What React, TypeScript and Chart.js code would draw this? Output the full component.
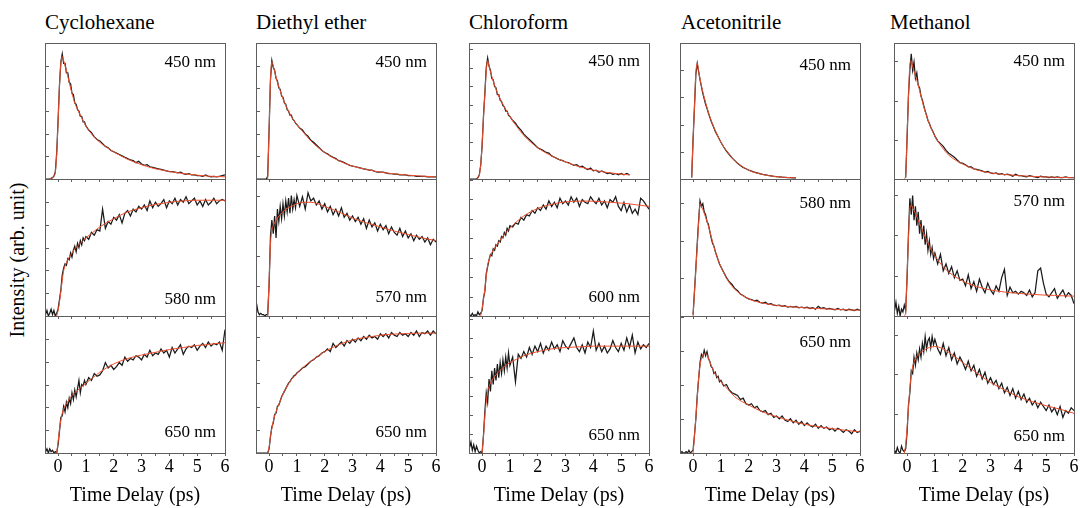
import React, { useEffect, useRef } from 'react';
import { Chart, registerables } from 'chart.js';

Chart.register(...registerables);

// ---------------- text ----------------
const SOLVENTS = ['Cyclohexane', 'Diethyl ether', 'Chloroform', 'Acetonitrile', 'Methanol'];
const WAVELENGTHS = [
  ['450 nm', '580 nm', '650 nm'],
  ['450 nm', '570 nm', '650 nm'],
  ['450 nm', '600 nm', '650 nm'],
  ['450 nm', '580 nm', '650 nm'],
  ['450 nm', '570 nm', '650 nm'],
];
const X_AXIS_TITLE = 'Time Delay (ps)';
const Y_AXIS_TITLE = 'Intensity (arb. unit)';

// ---------------- axes ----------------
const X_MIN = -0.47;
const X_MAX = 6;
const X_TICKS = [0, 0.5, 1, 1.5, 2, 2.5, 3, 3.5, 4, 4.5, 5, 5.5, 6];
const X_TICK_LABELS = ['0', '', '1', '', '2', '', '3', '', '4', '', '5', '', '6'];
// number of y tick divisions spanning each panel (col x row)
const Y_DIVISIONS = [
  [6, 6, 6],
  [6, 4.57, 5.9],
  [7.34, 7.03, 7.17],
  [5, 3.65, 4.02],
  [3.47, 3.4, 3.49],
];

// ---------------- time grids (ps) ----------------
const T_DATA = [
  -0.45, -0.4, -0.35, -0.3, -0.25, -0.2, -0.15, -0.1, -0.05,
  0, 0.05, 0.1, 0.15, 0.2, 0.25, 0.3, 0.35, 0.4, 0.45, 0.5, 0.55, 0.6, 0.65, 0.7, 0.75, 0.8, 0.85, 0.9, 0.95, 1,
  1.1, 1.2, 1.3, 1.4, 1.5, 1.6, 1.7, 1.8, 1.9, 2,
  2.1, 2.2, 2.3, 2.4, 2.5, 2.6, 2.7, 2.8, 2.9, 3,
  3.1, 3.2, 3.3, 3.4, 3.5, 3.6, 3.7, 3.8, 3.9, 4,
  4.1, 4.2, 4.3, 4.4, 4.5, 4.6, 4.7, 4.8, 4.9, 5,
  5.1, 5.2, 5.3, 5.4, 5.5, 5.6, 5.7, 5.8, 5.9, 6,
];
const T_FIT = [
  -0.45, -0.3, -0.2, -0.15, -0.1, -0.05,
  0, 0.05, 0.1, 0.15, 0.2, 0.25, 0.3,
  0.4, 0.5, 0.6, 0.8, 1,
  1.25, 1.5, 2, 2.5, 3, 3.5, 3.7, 4, 4.5, 5, 5.3, 5.5, 6,
];
const N = null;

// ---------------- Cyclohexane ----------------
const CYC_450 = [
  0, 0, 0, 0, 0.5, 1, 2, 5, 19,
  43, 69, 86, 92, 85, 85, 78, 78, 71, 70, 63, 62, 56, 55, 51, 50, 46, 46, 42, 42, 39,
  36, 34, 31, 29, 28, 26, 24, 23, 21, 20,
  19, 18, 17, 16, 15, 14, 13.5, 12, 13, 11,
  10, 10.5, 9, 8.5, 8, 7.5, 7, 6.5, 6, 5.5,
  5.5, 5, 4.5, 5, 4, 3.5, 4, 3, 3, 2.5,
  2.5, 2, 3, 2, 1.5, 2, 1.5, 2, 2.5, 3,
];
const CYC_450_FIT = [
  N, 0, 1, 2, 5, 18,
  42, 68, 85, 90, 87, 83.5, 80,
  71, 63, 56, 47, 39,
  32, 27, 20, 14.5, 10.5, 7.5, 6.7, 5.5, 4, 2.8, 2.3, 2, 1.6,
];
const CYC_580 = [
  1, 4, 0, 2, 5, 1, 4, 0, 2,
  5, 12, 19, 30, 35, 38, 37, 42, 41, 46, 43, 48, 51, 47, 53, 50, 55, 52, 57, 55, 58,
  56, 61, 59, 63, 62, 78, 64, 69, 67, 72,
  70, 74, 68, 75, 77, 73, 78, 76, 80, 78,
  81, 77, 84, 79, 83, 80, 82, 85, 79, 84,
  82, 86, 81, 85, 83, 87, 82, 84, 86, 81,
  84, 80, 85, 81, 83, 86, 82, 84, 85, 84,
];
const CYC_580_FIT = [
  N, N, N, N, N, 0,
  4, 10, 18, 26, 33, 36.5, 39,
  43, 46, 49, 53, 57,
  61, 65, 71, 76, 79, 81.5, 82, 83, 84, 84.5, 84.5, 84.5, 84.5,
];
const CYC_650 = [
  1, 3, 0, 3, 1, 2, 0, 1, 0,
  6, 16, 26, 27, 34, 30, 37, 33, 40, 36, 44, 39, 46, 41, 47, 53, 44, 50, 49, 53, 50,
  55, 53, 58, 56, 57, 60, 66, 62, 64, 61,
  63, 66, 64, 70, 67, 69, 68, 71, 70, 68,
  72, 70, 75, 71, 73, 72, 76, 73, 75, 70,
  77, 73, 76, 79, 72, 76, 78, 77, 79, 75,
  78, 80, 77, 81, 78, 80, 79, 81, 75, 90,
];
const CYC_650_FIT = [
  N, N, N, N, N, 0,
  8, 17, 24, 29, 32, 34.5, 36,
  39, 42, 44, 47.5, 51,
  55, 59, 65, 69, 71.5, 73.5, 74.3, 75.5, 77, 78.5, 79, 79.5, 80.5,
];

// ---------------- Diethyl ether ----------------
const DEE_450 = [
  0, 0, 0, 0, 0, 0, 0, 0, 2,
  36, 73, 87, 82, 80, 74, 72, 67, 66, 61, 60, 56, 55, 51, 50, 47, 47, 44, 43, 41, 40,
  37.5, 36, 33, 31.5, 28.5, 27, 25, 23, 21, 19.5,
  18.5, 17, 16, 15, 13.5, 13, 12, 11, 10, 9.5,
  9, 8.5, 8, 7.5, 7, 6.5, 6.5, 5.5, 5, 5,
  5, 4.5, 4, 4, 3.5, 3.5, 3, 3, 3, 2.5,
  2.5, 2.5, 2, 2, 2, 2, 1.5, 1.5, 1.5, 1.5,
];
const DEE_450_FIT = [
  N, N, N, N, N, 0,
  35, 72, 86, 83, 79, 75, 71,
  65, 59, 54, 46, 40,
  34, 28, 19.5, 13.5, 9.5, 7, 6.2, 5, 3.8, 2.8, 2.4, 2.1, 1.6,
];
const DEE_570 = [
  9, 3, 1, 2, 1, 1, 0, 1, 1,
  22, 58, 70, 60, 73, 57, 78, 69, 80, 71, 82, 73, 84, 76, 86, 75, 88, 78, 85, 79, 88,
  80, 87, 78, 90, 84, 86, 81, 84, 78, 82,
  76, 80, 74, 78, 73, 79, 72, 75, 70, 73,
  69, 72, 67, 71, 64, 70, 65, 68, 62, 67,
  63, 66, 60, 65, 61, 59, 64, 58, 62, 57,
  60, 55, 59, 56, 58, 54, 57, 52, 56, 54,
];
const DEE_570_FIT = [
  N, N, N, N, N, 0,
  25, 52, 63, 66, 68, 70, 71.5,
  74, 76, 78, 80, 82,
  83, 83, 80, 76, 71.5, 68, 66.8, 65, 62, 59.5, 58, 57, 55,
];
const DEE_650 = [
  0, 0, 0, 0, 0, 0, 0, 0, 0,
  3, 12, 19, 22, 28, 29, 34, 35, 38, 41, 43, 45, 47, 49, 51, 52, 54, 55, 56.5, 57, 58.5,
  60, 62, 63, 65, 67, 68, 70, 71, 73, 74,
  76, 74, 80, 77, 79, 81, 78, 82, 80, 83,
  81, 84, 82, 85, 83, 86, 84, 85, 83, 87,
  85, 87, 84, 88, 86, 85, 88, 86, 87, 85,
  88, 86, 89, 85, 88, 87, 89, 86, 89, 87,
];
const DEE_650_FIT = [
  N, N, N, N, N, 0,
  4, 12, 18, 23, 27, 30, 33,
  38, 43, 47, 53.5, 58,
  63, 67, 74, 79, 82.5, 84.5, 85, 86, 86.8, 87.2, 87.4, 87.5, 87.5,
];

// ---------------- Chloroform ----------------
const CHL_450 = [
  0, 0, 0, 0, 0, 0, 1, 3, 10,
  24, 46, 63, 82, 89, 83, 80, 74, 73, 68, 67, 62, 62, 58, 57, 54, 53, 50, 50, 47, 46,
  43, 41, 38, 36, 33, 31, 29, 27, 25, 23,
  22, 21, 19.5, 19, 17, 16, 15, 14, 13.5, 12.5,
  12, 11, 10, 10.5, 9, 9.5, 8, 7, 8, 6,
  6.5, 5, 6, 5, 4, 4.5, 3.5, 4, 3, 4,
  3, 4, 3, N, N, N, N, N, N, N,
];
const CHL_450_FIT = [
  N, N, 0, 0.5, 3, 10,
  25, 45, 62, 79, 87, 83, 79,
  72, 66, 61, 53, 46,
  38.5, 32, 23, 17, 12.5, 9, 8, 6.5, 4.8, 3.6, 3, N, N,
];
const CHL_600 = [
  1, 0, 2, 0, 1, 0, 3, 1, 2,
  4, 13, 18, 31, 36, 41, 45, 44, 49, 48, 52, 51, 55, 54, 58, 57, 61, 59, 64, 62, 66,
  65, 68, 67, 72, 70, 74, 73, 77, 75, 79,
  77, 81, 78, 84, 80, 83, 79, 86, 82, 84,
  81, 87, 83, 86, 80, 85, 83, 82, 87, 84,
  82, 86, 81, 84, 79, 85, 83, 87, 80, 77,
  83, 76, 81, 75, 78, 74, 86, 84, 81, 78,
];
const CHL_600_FIT = [
  N, N, N, N, N, 0,
  5, 12, 20, 29, 37, 41, 44,
  48, 51, 54, 59.5, 64,
  69, 73, 78.5, 81.5, 83.3, 83.8, 83.9, 83.8, 83.2, 82.4, 81.8, 81.3, 80,
];
const CHL_650 = [
  4, 8, 2, 6, 1, 5, 2, 0, 1,
  0, 13, 30, 44, 37, 54, 45, 60, 50, 62, 53, 65, 55, 66, 58, 68, 60, 70, 62, 73, 64,
  70, 52, 72, 69, 74, 70, 77, 72, 78, 74,
  80, 73, 78, 75, 81, 76, 79, 74, 82, 78,
  76, 80, 84, 77, 74, 79, 73, 81, 77, 89,
  75, 80, 74, 78, 73, 76, 82, 77, 74, 80,
  75, 84, 77, 86, 73, 81, 76, 79, 77, 80,
];
const CHL_650_FIT = [
  N, N, N, N, N, N,
  0, 12, 27, 37, 45, 48.5, 51,
  54.5, 57, 59.5, 63, 66,
  68.5, 71, 74, 76, 77, 77.5, 77.7, 78, 78, 78, 78, 78, 78,
];

// ---------------- Acetonitrile ----------------
const ACN_450 = [
  N, N, N, N, N, N, N, N, 1,
  29, 53, 77, 85, 79, 73, 68, 63, 59, 55, 52, 48.5, 45.5, 42.5, 40, 37.5, 35, 33, 31, 29, 27,
  23.5, 20.5, 18, 15.5, 13.5, 11.5, 10, 8.5, 7.5, 6.5,
  5.8, 5, 4.5, 3.9, 3.4, 3, 2.6, 2.3, 2, 1.7,
  1.5, 1.3, 1.2, 1.1, 1, 0.9, 0.8, N, N, N,
  N, N, N, N, N, N, N, N, N, N,
  N, N, N, N, N, N, N, N, N, N,
];
const ACN_450_FIT = [
  N, N, N, N, N, 1,
  29, 53, 78, 85, 79, 73.5, 68.5,
  60, 52.5, 46, 35.5, 27,
  19.5, 13.5, 6.5, 3.3, 1.7, 1, 0.8, N, N, N, N, N, N,
];
const ACN_580 = [
  N, N, N, N, N, N, N, N, N,
  1, 18, 35, 53, 70, 84, 80, 82, 76, 74, 69, 67, 62, 57, 53, 51, 47, 44, 41, 38, 36,
  32, 28, 25, 23, 20, 18.5, 16, 15, 13.5, 12.5,
  12, 11, 11.5, 10, 9.5, 10, 8.5, 9, 8, 7.5,
  8, 7, 7.5, 6.5, 7, 6.5, 7, 6, 6.5, 6,
  6.5, 5.5, 6, 5, 7, 5.5, 6, 5, 5.5, 5,
  4.5, 5.5, 4.5, 5, 4, 5, 4.5, 4, 5, 4,
];
const ACN_580_FIT = [
  N, N, N, N, N, N,
  0, 17, 34, 51, 68, 82, 80,
  75, 69, 62, 47, 36,
  26, 19.5, 12.5, 9.5, 7.7, 6.8, 6.5, 6, 5.4, 5, 4.7, 4.5, 4.2,
];
const ACN_650 = [
  0, 1, 0, 0, 1, 0, 2, 0, 1,
  2, 13, 25, 42, 54, 66, 72, 70, 75, 71, 74, 69, 67, 63, 62, 58, 59, 55, 56, 52, 53,
  49, 50, 46, 44, 43, 42, 39, 40, 36, 35,
  36, 33, 34, 31, 30, 31, 28, 29, 26, 27,
  25, 27, 24, 23, 25, 22, 24, 21, 23, 20,
  22, 20, 19, 21, 18, 20, 18, 19, 17, 18,
  16, 18, 17, 15, 17, 16, 14, 17, 15, 16,
];
const ACN_650_FIT = [
  N, N, N, N, N, N,
  0, 12, 26, 40, 55, 64, 69,
  72.5, 72, 66.5, 57.5, 52,
  46.5, 41, 35, 30, 26.5, 23.5, 22.5, 21, 19.2, 17.8, 17, 16.5, 15.4,
];

// ---------------- Methanol ----------------
const MEOH_450 = [
  N, N, N, N, N, N, N, N, 1,
  30, 62, 80, 92, 80, 86, 74, 78, 69, 67, 61, 58, 54, 50, 47, 43, 41, 38, 36, 34, 31.5,
  28, 26, 24, 21, 19, 17.5, 16, 14, 12, 11.5,
  10.5, 9, 9, 7.5, 7, 6.5, 6, 5, 5.5, 4.5,
  4, 4.5, 3.5, 4, 3, 3.5, 3, 2, 3.5, 2.5,
  2.5, 2, 1.5, 2.5, 2, 1.5, 1, 2, 1.5, 1.5,
  1, 1.5, 1, 1.5, 1, 1, 1.5, 1, 1, 1,
];
const MEOH_450_FIT = [
  N, N, N, N, 0, 3,
  32, 60, 84, 87, 83, 79, 76,
  69, 61, 53, 40.5, 31.5,
  23.5, 17.5, 11, 6.7, 4.5, 3.3, 3, 2.5, 1.9, 1.5, 1.3, 1.2, 1,
];
const MEOH_570 = [
  4, 10, 2, 7, 0, 5, 3, 8, 4,
  28, 60, 86, 74, 88, 70, 80, 66, 76, 60, 70, 56, 66, 52, 60, 48, 55, 45, 50, 42, 46,
  38, 45, 33, 38, 31, 36, 28, 33, 26, 27,
  22, 30, 20, 25, 18, 27, 21, 17, 24, 19,
  16, 22, 18, 28, 34, 15, 21, 17, 18, 16,
  18, 17, 15, 19, 14, 17, 33, 35, 24, 16,
  14, 17, 20, 13, 16, 19, 14, 17, 15, 9,
];
const MEOH_570_FIT = [
  N, N, N, N, 0, 3,
  30, 57, 78, 81, 79, 77, 75,
  70, 65, 60, 51, 44,
  37, 32, 25.5, 21.5, 19, 17.5, 17, 16.5, 15.8, 15.2, 15, 14.8, 14.5,
];
const MEOH_650 = [
  2, 0, 4, 1, 0, 5, 2, 1, 3,
  15, 35, 44, 60, 58, 70, 64, 73, 68, 76, 70, 80, 74, 85, 76, 82, 84, 77, 85, 79, 83,
  76, 72, 80, 71, 77, 68, 73, 65, 70, 66,
  61, 67, 60, 64, 56, 61, 54, 59, 51, 55,
  50, 53, 47, 51, 44, 48, 42, 47, 40, 45,
  39, 43, 37, 40, 35, 38, 33, 37, 34, 31,
  35, 30, 33, 28, 34, 26, 31, 29, 33, 31,
];
const MEOH_650_FIT = [
  N, N, N, N, 0, 6,
  18, 33, 47, 57, 63, 66.5, 69,
  71.5, 73.5, 75, 77, 77.7,
  76.5, 73.5, 66, 58.5, 51.5, 46, 44, 41, 37.5, 34.5, 33, 32, 29,
];

// column x row table built from the arrays above
const SERIES = [
  [{ data: CYC_450, fit: CYC_450_FIT }, { data: CYC_580, fit: CYC_580_FIT }, { data: CYC_650, fit: CYC_650_FIT }],
  [{ data: DEE_450, fit: DEE_450_FIT }, { data: DEE_570, fit: DEE_570_FIT }, { data: DEE_650, fit: DEE_650_FIT }],
  [{ data: CHL_450, fit: CHL_450_FIT }, { data: CHL_600, fit: CHL_600_FIT }, { data: CHL_650, fit: CHL_650_FIT }],
  [{ data: ACN_450, fit: ACN_450_FIT }, { data: ACN_580, fit: ACN_580_FIT }, { data: ACN_650, fit: ACN_650_FIT }],
  [{ data: MEOH_450, fit: MEOH_450_FIT }, { data: MEOH_570, fit: MEOH_570_FIT }, { data: MEOH_650, fit: MEOH_650_FIT }],
];

// ---------------- layout & style ----------------
const PAGE_W = 1080;
const PAGE_H = 508;
const COL_LEFT = [45, 256, 469, 680, 894];
const PANEL_W = 180;
const ROW_TOP = [43, 179, 316];
const ROW_H = [136, 137, 137];
const PAD_L = 3;
const PAD_T = 3;
const PAD_R = 8;
const TICK_LEN = 3;
const LABEL_DY = [
  [20, 121, 117],
  [20, 119, 117],
  [19, 119, 120],
  [23, 25, 27],
  [19, 23, 121],
];
const TITLE_X = [45, 256, 469, 681, 890];
const SERIF = '"Liberation Serif", "Times New Roman", serif';
const FRAME_COLOR = '#5e5e5e';
const DATA_COLOR = '#1a1a1a';
const FIT_COLOR = '#f0502d';

const framePlugin: any = {
  id: 'panelFrame',
  afterDatasetsDraw(chart: any, _args: any, opts: any) {
    const { ctx, chartArea: a } = chart;
    const ys = chart.scales.y;
    ctx.save();
    ctx.strokeStyle = FRAME_COLOR;
    ctx.lineWidth = 1;
    ctx.strokeRect(a.left + 0.5, a.top + 0.5, a.right - a.left, a.bottom - a.top);
    ctx.beginPath();
    const n = Math.floor(opts.divisions + 1e-6);
    for (let k = 1; k <= n; k++) {
      const y = Math.round(ys.getPixelForValue((k * 100) / opts.divisions)) + 0.5;
      ctx.moveTo(a.left, y);
      ctx.lineTo(a.left + 1 + TICK_LEN, y);
    }
    ctx.stroke();
    ctx.font = '17px ' + SERIF;
    ctx.fillStyle = '#000';
    ctx.textAlign = 'right';
    ctx.textBaseline = 'middle';
    ctx.fillText(opts.label, a.right - 9, a.top + opts.labelDy);
    ctx.restore();
  },
};

function Panel({ col, row }: { col: number; row: number }) {
  const ref = useRef<HTMLCanvasElement>(null);
  const isBottom = row === 2;
  const w = PAD_L + PANEL_W + PAD_R;
  const top = ROW_TOP[row] - PAD_T;
  const axisH = isBottom ? PAGE_H - top - PAD_T - ROW_H[row] : TICK_LEN;
  const h = PAD_T + ROW_H[row] + axisH;

  useEffect(() => {
    const s = SERIES[col][row];
    const chart = new Chart(ref.current as HTMLCanvasElement, {
      type: 'line',
      data: {
        datasets: [
          {
            data: T_FIT.map((x, i) => ({ x, y: s.fit[i] })),
            borderColor: FIT_COLOR,
            borderWidth: 1,
            pointRadius: 0,
            cubicInterpolationMode: 'monotone',
            order: 0,
          },
          {
            data: T_DATA.map((x, i) => ({ x, y: s.data[i] })),
            borderColor: DATA_COLOR,
            borderWidth: 1.25,
            pointRadius: 0,
            tension: 0,
            order: 1,
          },
        ],
      } as any,
      options: {
        animation: false,
        responsive: false,
        devicePixelRatio: 1,
        events: [],
        parsing: false,
        layout: { padding: { left: PAD_L, right: PAD_R, top: PAD_T, bottom: 0 } },
        plugins: {
          legend: { display: false },
          tooltip: { enabled: false },
          panelFrame: { divisions: Y_DIVISIONS[col][row], label: WAVELENGTHS[col][row], labelDy: LABEL_DY[col][row] },
        },
        scales: {
          x: {
            type: 'linear',
            min: X_MIN,
            max: X_MAX,
            afterBuildTicks: (sc: any) => {
              sc.ticks = X_TICKS.map((v) => ({ value: v }));
            },
            afterFit: (sc: any) => {
              sc.height = axisH;
            },
            grid: { drawOnChartArea: false, drawTicks: true, tickLength: TICK_LEN, color: FRAME_COLOR },
            border: { display: false },
            ticks: {
              display: isBottom,
              autoSkip: false,
              maxRotation: 0,
              padding: 0,
              color: '#000',
              font: { family: SERIF, size: 18 },
              callback: (_v: any, i: number) => X_TICK_LABELS[i],
            },
            title: {
              display: isBottom,
              text: X_AXIS_TITLE,
              color: '#000',
              font: { family: SERIF, size: 20 },
              padding: { top: 0, bottom: 0 },
            },
          },
          y: { type: 'linear', display: false, min: 0, max: 100 },
        },
      } as any,
      plugins: [framePlugin],
    });
    return () => chart.destroy();
  }, [col, row]);

  return (
    <canvas
      ref={ref}
      width={w}
      height={h}
      style={{ position: 'absolute', left: COL_LEFT[col] - PAD_L, top, width: w, height: h }}
    />
  );
}

export default function App() {
  const cells: any[] = [];
  for (let c = 0; c < 5; c++) for (let r = 0; r < 3; r++) cells.push(<Panel key={c + '-' + r} col={c} row={r} />);
  return (
    <div
      style={{
        position: 'absolute',
        left: 0,
        top: 0,
        width: PAGE_W,
        height: PAGE_H,
        background: '#fff',
        overflow: 'hidden',
        fontFamily: SERIF,
        color: '#000',
      }}
    >
      {SOLVENTS.map((name, c) => (
        <div
          key={name}
          style={{ position: 'absolute', left: TITLE_X[c], top: 12, fontSize: 21, lineHeight: '21px', whiteSpace: 'nowrap' }}
        >
          {name}
        </div>
      ))}
      <div
        style={{
          position: 'absolute',
          left: 17,
          top: 260,
          fontSize: 20,
          lineHeight: '20px',
          whiteSpace: 'nowrap',
          transform: 'translate(-50%, -50%) rotate(-90deg)',
        }}
      >
        {Y_AXIS_TITLE}
      </div>
      {cells}
    </div>
  );
}
